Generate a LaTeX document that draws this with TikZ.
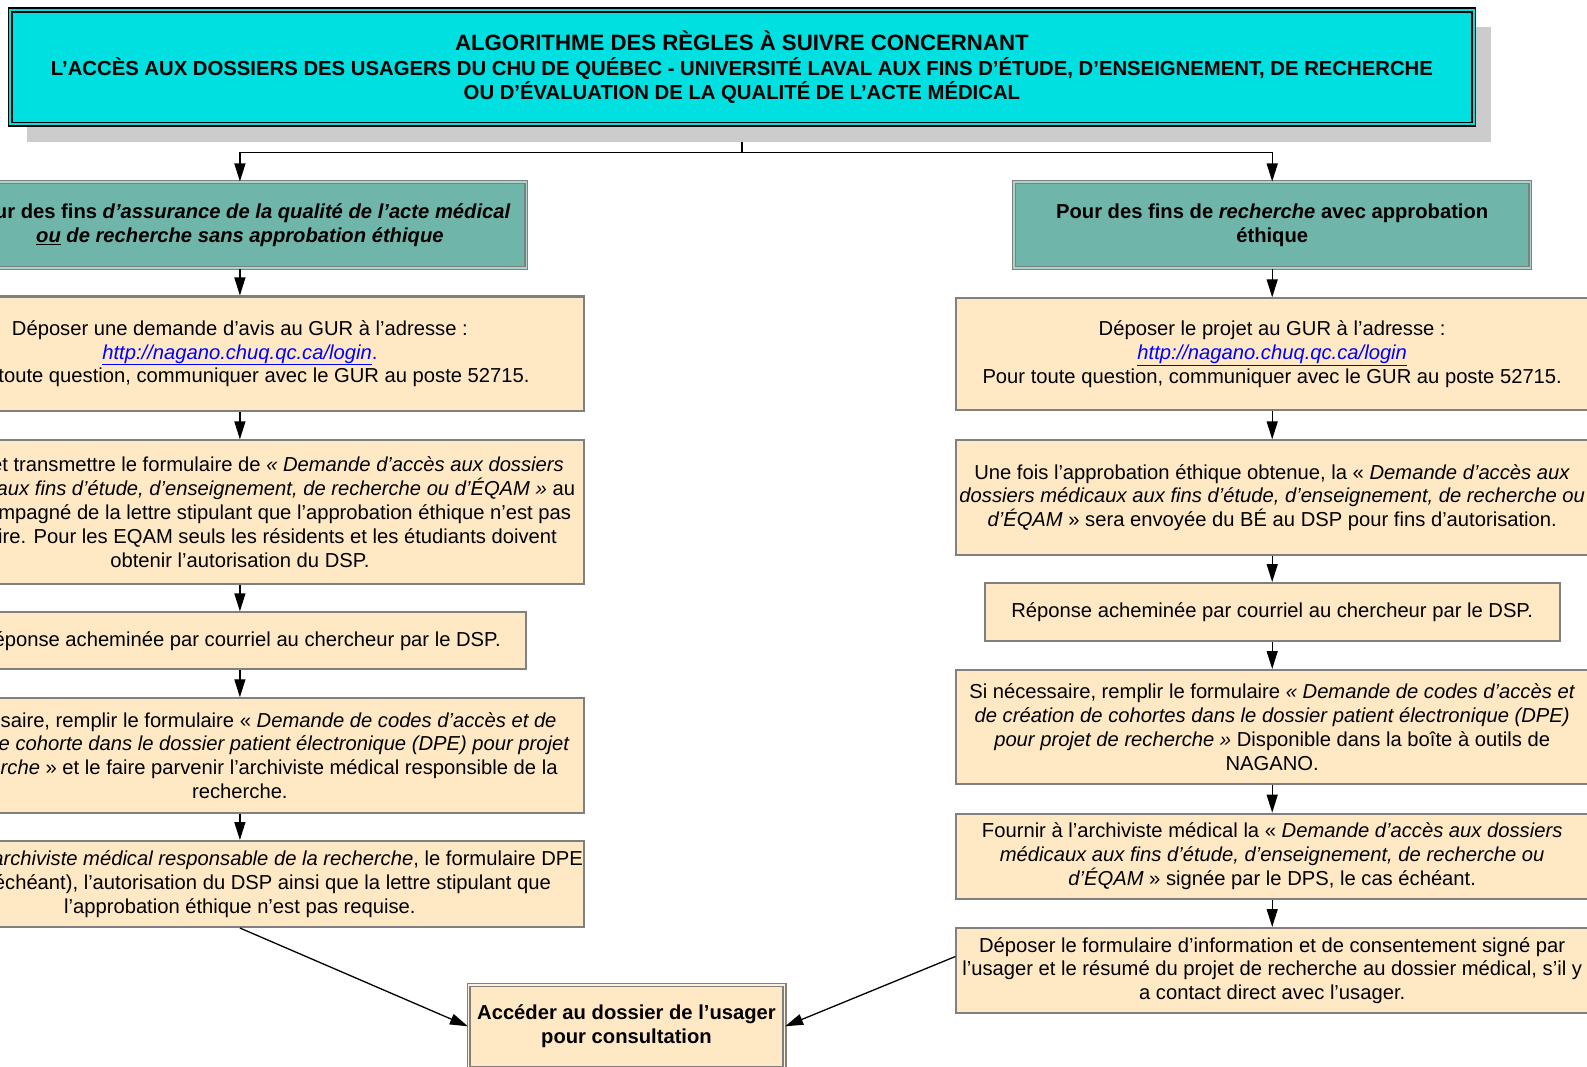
\documentclass[tikz,border=0pt]{standalone}
\usepackage{fontspec}
\setmainfont{Liberation Sans}
\usetikzlibrary{arrows.meta}
\definecolor{titlecyan}{HTML}{00E0E0}
\definecolor{hdrteal}{HTML}{70B5A9}
\definecolor{beige}{HTML}{FFE8C4}
\definecolor{boxgray}{HTML}{808080}
\definecolor{shadowgray}{HTML}{CCCCCC}
\definecolor{linkblue}{HTML}{0000FF}
\newcommand\lnk[1]{\textcolor{linkblue}{\itshape\underline{#1}}}
\tikzset{
  stepbox/.style={draw=boxgray, line width=2pt, fill=beige, align=center,
    inner sep=0pt, font=\fontsize{20.2}{23.8}\selectfont},
  hdrbox/.style={draw=boxgray, line width=1.4pt, double=hdrteal!60!white, double distance=1.4pt,
    fill=hdrteal, align=center, inner sep=0pt, font=\fontsize{20.2}{24.8}\selectfont\bfseries},
  finalbox/.style={draw=boxgray, line width=1.4pt, double=beige!60!white, double distance=1.4pt,
    fill=beige, align=center, inner sep=0pt, font=\fontsize{20.2}{24.3}\selectfont\bfseries},
  titlebox/.style={draw=black, line width=1.6pt, double=titlecyan, double distance=2pt,
    fill=titlecyan, align=center, inner sep=0pt, font=\fontsize{20.3}{24.8}\selectfont\bfseries},
  arr/.style={line width=1.3pt, -{Triangle[length=18pt,width=11pt]}},
  conn/.style={line width=1.3pt}
}
\begin{document}
\begin{tikzpicture}[x=1pt,y=-1pt]
\useasboundingbox (0,0) rectangle (1587,1067);
\clip (0,0) rectangle (1587,1067);
\fill[white] (0,0) rectangle (1587,1067);

% junction
\coordinate (J) at (741.9,152.8);

% nodes
\node[hdrbox, minimum width=572.9pt, minimum height=86pt] (hL) at (239.9,225.2)
  {Pour des fins \textit{d’assurance de la qualité de l’acte médical}\\ \textit{\underline{ou} de recherche sans approbation éthique}};
\node[hdrbox, minimum width=516.2pt, minimum height=86pt] (hR) at (1272.2,225.2)
  {Pour des fins de \textit{recherche} avec approbation\\ éthique};

\node[stepbox, minimum width=688.2pt, minimum height=114.4pt] (L1) at (239.9,353.7)
  {Déposer une demande d’avis au GUR à l’adresse :\\ \lnk{http://nagano.chuq.qc.ca/login}\textcolor{linkblue}{.}\\ Pour toute question, communiquer avec le GUR au poste 52715.};
\node[stepbox, minimum width=688.2pt, minimum height=143.7pt] (L2) at (239.9,512.2)
  {Remplir et transmettre le formulaire de \textit{« Demande d’accès aux dossiers}\\ \textit{médicaux aux fins d’étude, d’enseignement, de recherche ou d’ÉQAM »} au\\ DSP accompagné de la lettre stipulant que l’approbation éthique n’est pas\\ nécessaire. Pour les EQAM seuls les résidents et les étudiants doivent\\ obtenir l’autorisation du DSP.};
\node[stepbox, minimum width=572.9pt, minimum height=56.7pt] (L3) at (239.9,640.7)
  {Réponse acheminée par courriel au chercheur par le DSP.};
\node[stepbox, minimum width=688.2pt, minimum height=114.4pt] (L4) at (239.9,755.5)
  {Si nécessaire, remplir le formulaire « \textit{Demande de codes d’accès et de}\\ \textit{création de cohorte dans le dossier patient électronique (DPE) pour projet}\\ \textit{de recherche} » et le faire parvenir l’archiviste médical responsible de la\\ recherche.};
\node[stepbox, minimum width=688.2pt, minimum height=86pt] (L5) at (239.9,884)
  {Fournir à l’\textit{archiviste médical responsable de la recherche}, le formulaire DPE\\ (le cas échéant), l’autorisation du DSP ainsi que la lettre stipulant que\\ l’approbation éthique n’est pas requise.};

\node[stepbox, minimum width=631.6pt, minimum height=111.3pt] (R1) at (1272.2,354)
  {Déposer le projet au GUR à l’adresse :\\ \lnk{http://nagano.chuq.qc.ca/login}\\ Pour toute question, communiquer avec le GUR au poste 52715.};
\node[stepbox, minimum width=631.6pt, minimum height=114.3pt] (R2) at (1272.2,497.5)
  {Une fois l’approbation éthique obtenue, la « \textit{Demande d’accès aux}\\ \textit{dossiers médicaux aux fins d’étude, d’enseignement, de recherche ou}\\ \textit{d’ÉQAM} » sera envoyée du BÉ au DSP pour fins d’autorisation.};
\node[stepbox, minimum width=574.8pt, minimum height=57.7pt] (R3) at (1272.2,611.9)
  {Réponse acheminée par courriel au chercheur par le DSP.};
\node[stepbox, minimum width=631.6pt, minimum height=114.4pt] (R4) at (1272.2,727.2)
  {Si nécessaire, remplir le formulaire \textit{« Demande de codes d’accès et}\\ \textit{de création de cohortes dans le dossier patient électronique (DPE)}\\ \textit{pour projet de recherche »} Disponible dans la boîte à outils de\\ NAGANO.};
\node[stepbox, minimum width=631.6pt, minimum height=85pt] (R5) at (1272.2,856.2)
  {Fournir à l’archiviste médical la « \textit{Demande d’accès aux dossiers}\\ \textit{médicaux aux fins d’étude, d’enseignement, de recherche ou}\\ \textit{d’ÉQAM} » signée par le DPS, le cas échéant.};
\node[stepbox, minimum width=631.6pt, minimum height=85pt] (R6) at (1272.2,970.5)
  {Déposer le formulaire d’information et de consentement signé par\\ l’usager et le résumé du projet de recherche au dossier médical, s’il y\\ a contact direct avec l’usager.};

\node[finalbox, minimum width=315.8pt, minimum height=83pt] (F) at (626.5,1026.3)
  {Accéder au dossier de l’usager\\ pour consultation};

% title connector stub (drawn before shadow)
\draw[conn] (741.9,120) -- (J);
% shadow and title
\fill[shadowgray] (27,27) rectangle (1490.8,141.7);
\node[titlebox, minimum width=1463.5pt, minimum height=114.4pt] (title) at (741.9,67.3)
  {{\fontsize{22.2}{24.8}\selectfont ALGORITHME DES RÈGLES À SUIVRE CONCERNANT}\\ L’ACCÈS AUX DOSSIERS DES USAGERS DU CHU DE QUÉBEC - UNIVERSITÉ LAVAL AUX FINS D’ÉTUDE, D’ENSEIGNEMENT, DE RECHERCHE\\ OU D’ÉVALUATION DE LA QUALITÉ DE L’ACTE MÉDICAL};

% connectors
\draw[arr] (J) -| (hL.north);
\draw[arr] (J) -| (hR.north);
\draw[arr] (hL) -- (L1);
\draw[arr] (L1) -- (L2);
\draw[arr] (L2) -- (L3);
\draw[arr] (L3) -- (L4);
\draw[arr] (L4) -- (L5);
\draw[arr] (hR) -- (R1);
\draw[arr] (R1) -- (R2);
\draw[arr] (R2) -- (R3);
\draw[arr] (R3) -- (R4);
\draw[arr] (R4) -- (R5);
\draw[arr] (R5) -- (R6);
\draw[arr] (L5.south) -- (F.west);
\draw[arr] ([yshift=14pt]R6.west) -- (F.east);
\end{tikzpicture}
\end{document}
